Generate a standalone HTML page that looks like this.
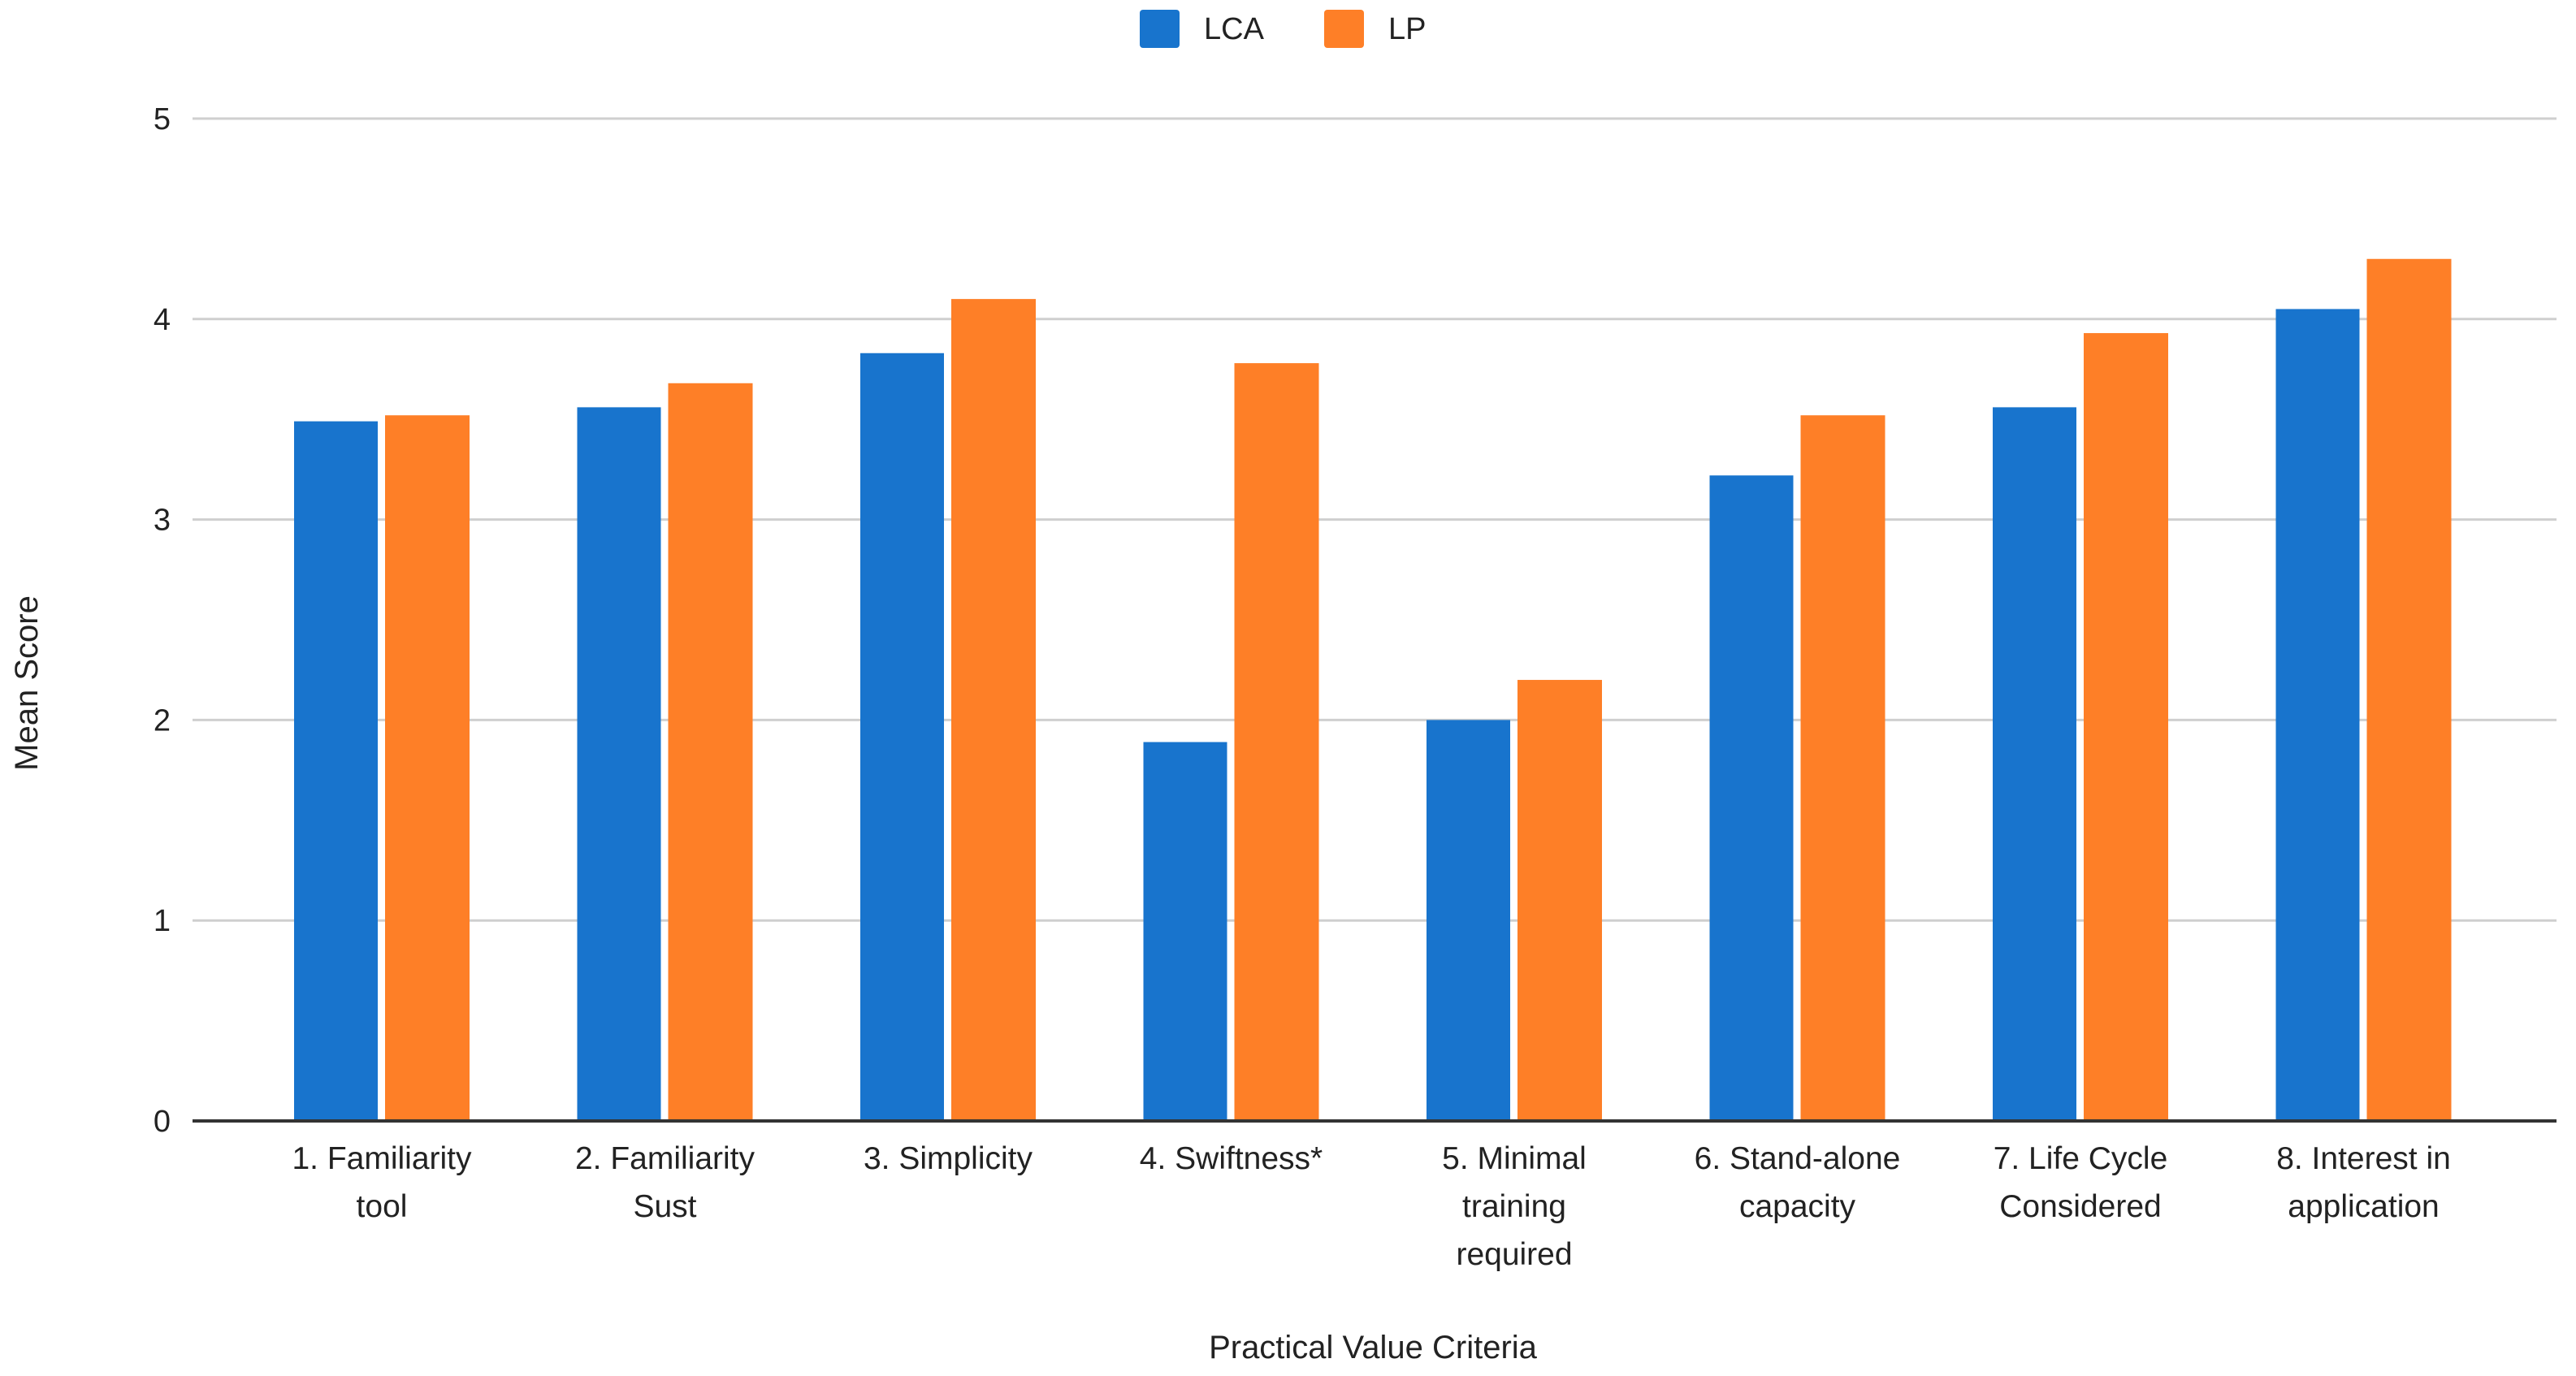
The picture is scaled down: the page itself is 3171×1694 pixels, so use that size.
<!DOCTYPE html>
<html><head><meta charset="utf-8"><style>
html,body{margin:0;padding:0;background:#fff;}
svg{display:block;font-family:"Liberation Sans",sans-serif;}
</style></head><body>
<svg id="chart" width="3171" height="1694" viewBox="0 0 3171 1694" xmlns="http://www.w3.org/2000/svg">
<rect width="3171" height="1694" fill="#fff"/>
<g id="grid"></g><g id="bars"></g><g id="xlabels"></g>
<g>
 <rect x="1403" y="12" width="49" height="47" rx="4" fill="#1874cd"/>
 <text x="1482" y="48" font-size="38" fill="#222">LCA</text>
 <rect x="1630" y="12" width="49" height="47" rx="4" fill="#fe7f27"/>
 <text x="1709" y="48" font-size="38" fill="#222">LP</text>
</g>
<text x="1690" y="1672" font-size="40" text-anchor="middle" fill="#222">Practical Value Criteria</text>
<text transform="translate(46,841) rotate(-90)" font-size="40" text-anchor="middle" fill="#222">Mean Score</text>
</svg>
<script>
const categories=[["1. Familiarity","tool"],["2. Familiarity","Sust"],["3. Simplicity"],["4. Swiftness*"],["5. Minimal","training","required"],["6. Stand-alone","capacity"],["7. Life Cycle","Considered"],["8. Interest in","application"]];
const lcaValues=[3.49,3.56,3.83,1.89,2.0,3.22,3.56,4.05];
const lpValues=[3.52,3.68,4.10,3.78,2.20,3.52,3.93,4.30];
const yTicks=[0,1,2,3,4,5];
const NS="http://www.w3.org/2000/svg";
const y0=1380,unit=246.8,cx0=470,step=348.5;
function yScale(v){return y0-v*unit;}
function xCenter(i){return cx0+i*step;}
function mk(tag,attrs,parent){const e=document.createElementNS(NS,tag);for(const k in attrs)e.setAttribute(k,attrs[k]);parent.appendChild(e);return e;}
const grid=document.getElementById('grid'),bars=document.getElementById('bars'),xl=document.getElementById('xlabels');
yTicks.forEach(t=>{
 if(t>0){const l=mk('line',{x1:237,x2:3147,y1:yScale(t),y2:yScale(t),stroke:'#cfcfcf','stroke-width':3},grid);
 
 }
 const tx=mk('text',{x:210,y:yScale(t)+13,'font-size':38,'text-anchor':'end',fill:'#222'},grid);
 tx.textContent=t;
 
 
});
categories.forEach((c,i)=>{
 const cx=xCenter(i);
 const b1=mk('rect',{x:cx-108,y:yScale(lcaValues[i]),width:103,height:lcaValues[i]*unit,fill:'#1874cd'},bars);
 
 
 const b2=mk('rect',{x:cx+4,y:yScale(lpValues[i]),width:104,height:lpValues[i]*unit,fill:'#fe7f27'},bars);
 
 
 const t=mk('text',{x:cx,y:1439,'font-size':39,'text-anchor':'middle',fill:'#222'},xl);
 
 
 c.forEach((ln,j)=>{const s=mk('tspan',{x:cx,y:1439+j*59},t);s.textContent=ln;});
});
const ax=mk('line',{x1:237,x2:3147,y1:y0,y2:y0,stroke:'#333','stroke-width':4},bars);


</script>
</body></html>
